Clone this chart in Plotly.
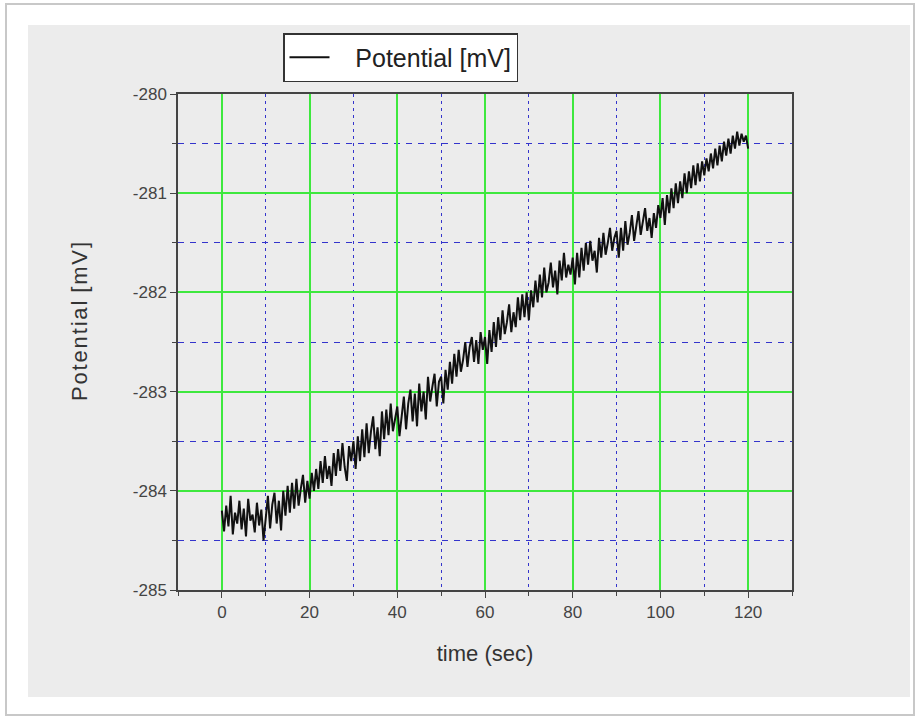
import plotly.graph_objects as go

potential = [
    -284.20, -284.41, -284.15, -284.36, -284.05, -284.44, -284.22, -284.33, -284.10, -284.39,
    -284.18, -284.46, -284.08, -284.30, -284.24, -284.42, -284.12, -284.35, -284.19, -284.50,
    -284.28, -284.05, -284.38, -284.14, -284.02, -284.33, -284.10, -284.40, -284.00, -284.25,
    -283.95, -284.22, -283.92, -284.18, -283.88, -284.15, -283.98, -283.84, -284.12, -283.90,
    -284.08, -283.82, -284.00, -283.78, -283.98, -283.70, -283.92, -283.65, -283.88, -283.75,
    -283.95, -283.62, -283.85, -283.58, -283.80, -283.52, -283.76, -283.90, -283.55, -283.70,
    -283.50, -283.78, -283.45, -283.70, -283.38, -283.66, -283.32, -283.62, -283.40, -283.25,
    -283.58, -283.36, -283.65, -283.20, -283.48, -283.18, -283.44, -283.12, -283.40, -283.28,
    -283.15, -283.45, -283.22, -283.05, -283.38, -283.12, -282.98, -283.30, -283.02, -283.35,
    -282.92, -283.20, -283.00, -283.28, -282.85, -283.10, -282.95, -282.82, -283.15, -282.90,
    -282.85, -283.12, -282.78, -282.98, -282.70, -282.92, -282.62, -282.85, -282.58, -282.80,
    -282.68, -282.50, -282.75, -282.55, -282.45, -282.70, -282.48, -282.72, -282.40, -282.58,
    -282.45, -282.72, -282.38, -282.60, -282.30, -282.55, -282.25, -282.48, -282.18, -282.42,
    -282.30, -282.12, -282.40, -282.20, -282.35, -282.05, -282.28, -282.02, -282.25, -282.00,
    -282.28, -281.98, -282.15, -281.88, -282.10, -281.82, -282.05, -281.75, -282.00, -281.90,
    -281.70, -281.95, -281.78, -282.02, -281.68, -281.88, -281.60, -281.85, -281.72, -281.82,
    -281.65, -281.92, -281.60, -281.85, -281.55, -281.78, -281.50, -281.72, -281.48, -281.68,
    -281.58, -281.80, -281.45, -281.65, -281.40, -281.62, -281.50, -281.35, -281.58, -281.45,
    -281.38, -281.65, -281.35, -281.58, -281.28, -281.52, -281.40, -281.22, -281.48, -281.32,
    -281.18, -281.42, -281.30, -281.15, -281.38, -281.25, -281.45, -281.20, -281.35, -281.12,
    -281.25, -281.05, -281.32, -281.02, -281.20, -280.95, -281.15, -280.90, -281.10, -280.88,
    -281.05, -280.80, -281.00, -280.78, -280.95, -280.72, -280.92, -280.70, -280.88, -280.68,
    -280.82, -280.65, -280.78, -280.60, -280.75, -280.55, -280.72, -280.52, -280.68, -280.48,
    -280.62, -280.45, -280.60, -280.42, -280.55, -280.38, -280.52, -280.40, -280.48, -280.42,
    -280.55,
]
time_sec = [i * 0.5 for i in range(len(potential))]

x_ticks = [0, 20, 40, 60, 80, 100, 120]
y_ticks = [-285, -284, -283, -282, -281, -280]

W, H = 918, 718
L, R, T, B = 178, 792, 94, 590
pw, ph = R - L, B - T

def px(x):
    return (x - L) / pw

def py(y):
    return (B - y) / ph

fig = go.Figure()
fig.add_trace(go.Scatter(
    x=time_sec, y=potential, mode="lines", name="\u00a0\u00a0\u00a0Potential [mV]",
    line=dict(color="#111111", width=2),
))

font = "Arial, Liberation Sans, sans-serif"

fig.update_layout(
    width=W, height=H,
    margin=dict(l=L, r=W - R, t=T, b=H - B, autoexpand=False),
    paper_bgcolor="white",
    plot_bgcolor="#f5f5f5",
    font=dict(family=font, color="#333333", size=17),
    showlegend=True,
    legend=dict(
        x=px(283), y=py(33), xanchor="left", yanchor="top",
        bgcolor="white", bordercolor="#333333", borderwidth=1.5,
        font=dict(size=25, color="#222222"),
        itemwidth=40,
    ),
    shapes=[
        dict(type="rect", xref="paper", yref="paper",
             x0=px(6), x1=px(914), y0=py(715), y1=py(4),
             line=dict(color="#c8c8c8", width=2), fillcolor="white", layer="below"),
        dict(type="rect", xref="paper", yref="paper",
             x0=px(28), x1=px(910), y0=py(697), y1=py(25),
             line=dict(width=0), fillcolor="#ececec", layer="below"),
    ],
    annotations=[
        dict(text="P\u200ao\u200at\u200ae\u200an\u200at\u200ai\u200aa\u200al\u200a [\u200am\u200aV\u200a]",
             xref="paper", yref="paper", x=px(79), y=py(322),
             xanchor="center", yanchor="middle", textangle=-90, showarrow=False,
             font=dict(size=22, color="#333333")),
    ],
)

fig.update_xaxes(
    range=[-10, 130], tickvals=x_ticks, ticktext=[str(v) for v in x_ticks],
    showgrid=True, gridcolor="#3ee83e", gridwidth=1.5,
    zeroline=False,
    showline=True, linecolor="#444444", linewidth=1.5, mirror=True,
    ticks="outside", ticklen=6, tickcolor="#444444",
    minor=dict(dtick=10, tick0=0, showgrid=True, gridcolor="#3434cc",
               griddash="3px,4px", gridwidth=1.2, ticks="outside", ticklen=4, tickcolor="#444444"),
    title=dict(text="time (sec)", font=dict(size=22, color="#333333"), standoff=24),
    tickfont=dict(size=17, color="#444444"),
)
fig.update_yaxes(
    range=[-285, -280], tickvals=y_ticks, ticktext=[str(v) for v in y_ticks],
    showgrid=True, gridcolor="#3ee83e", gridwidth=1.5,
    zeroline=False,
    showline=True, linecolor="#444444", linewidth=1.5, mirror=True,
    ticks="outside", ticklen=6, tickcolor="#444444",
    minor=dict(dtick=0.5, tick0=-285, showgrid=True, gridcolor="#3434cc",
               griddash="6px,6px", gridwidth=1.2, ticks="outside", ticklen=4, tickcolor="#444444"),
    tickfont=dict(size=17, color="#444444"),
)

fig.write_html("out.html")
